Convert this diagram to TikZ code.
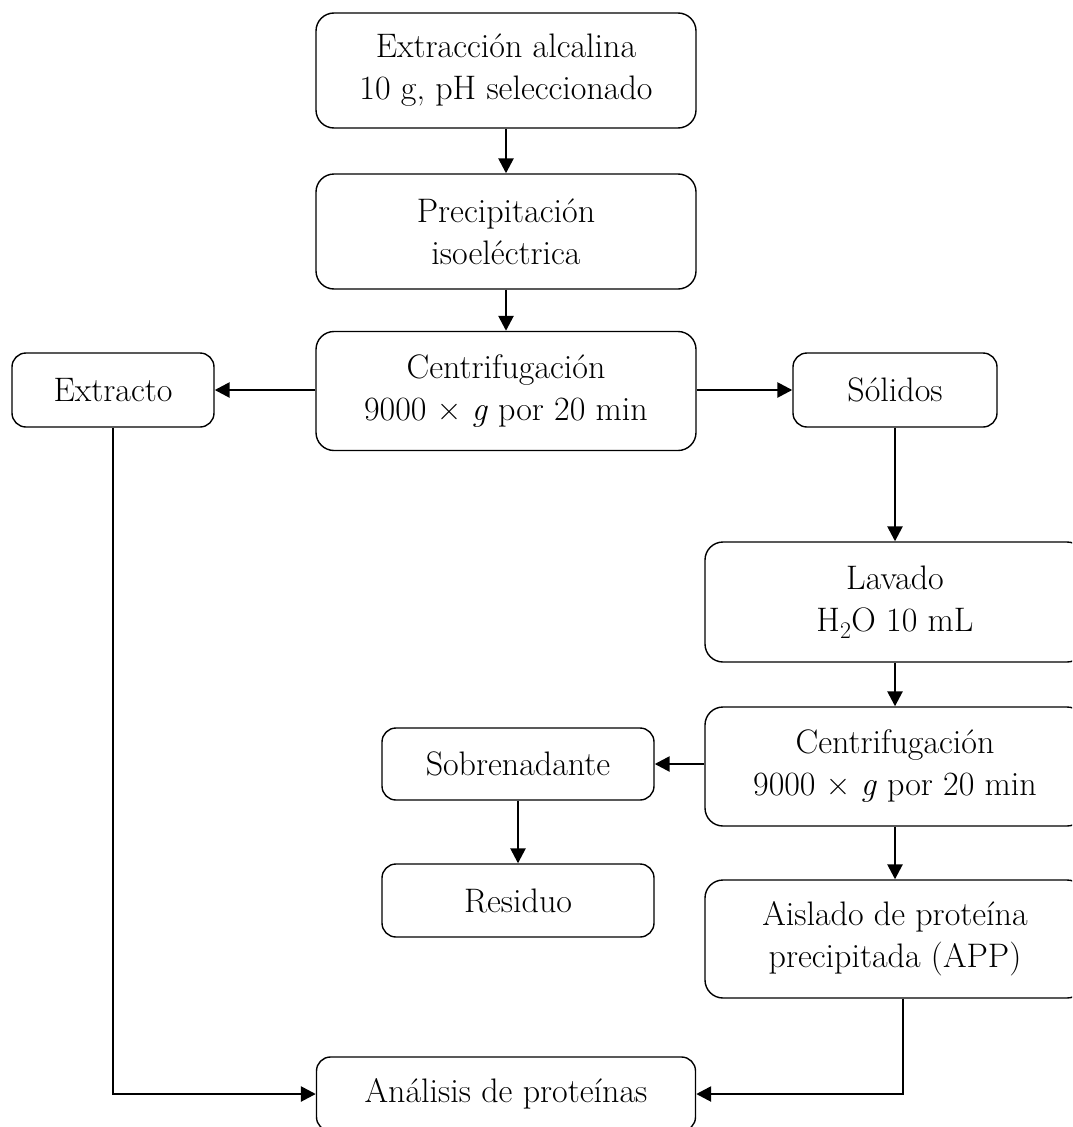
\documentclass[tikz,border=0pt]{standalone}
\usepackage{fontspec}
\usetikzlibrary{arrows.meta}
\begin{document}
\begin{tikzpicture}[x=1pt,y=-1pt,
  box/.style={draw=black, line width=1.4pt, rounded corners=18pt, align=center,
    inner sep=0pt, font=\fontsize{34}{42}\selectfont},
  bigbox/.style={box, minimum width=380pt, minimum height=117pt},
  smallbox/.style={box, rounded corners=14pt, minimum height=74pt},
  arr/.style={line width=2.6pt, -{Triangle[length=15pt,width=15pt]}}]
  \useasboundingbox (0,0) rectangle (1072,1127);
  \clip (0,0) rectangle (1072,1127);

  % main column
  \node[bigbox, minimum height=115pt] (ext)  at (506,70.5)  {Extracción alcalina\\10 g, pH seleccionado};
  \node[bigbox, minimum height=115pt] (prec) at (506,231.5) {Precipitación\\isoeléctrica};
  \node[bigbox, minimum height=119pt] (cen1) at (506,391)   {Centrifugación\\9000 × \textit{g} por 20 min};

  % side products of the first centrifugation
  \node[smallbox, minimum width=202pt] (xtr) at (113,390) {Extracto};
  \node[smallbox, minimum width=204pt] (sol) at (895,390) {Sólidos};

  % washing branch
  \node[bigbox, minimum height=120pt] (lav)  at (895,602)   {Lavado\\H\textsubscript{2}O 10 mL};
  \node[bigbox, minimum height=119pt] (cen2) at (895,766.5) {Centrifugación\\9000 × \textit{g} por 20 min};
  \node[smallbox, minimum width=272pt, minimum height=72pt] (sob) at (518,764) {Sobrenadante};
  \node[smallbox, minimum width=272pt, minimum height=73pt] (res) at (518,900.5) {Residuo};
  \node[bigbox, minimum height=118pt] (ais) at (895,939) {Aislado de proteína\\precipitada (APP)};

  % final analysis
  \node[smallbox, minimum width=379pt] (ana) at (506,1094) {Análisis de proteínas};

  % connectors
  \draw[arr] (ext) -- (prec);
  \draw[arr] (prec) -- (cen1);
  \draw[arr] (cen1.west |- xtr.east) -- (xtr.east);
  \draw[arr] (cen1.east |- sol.west) -- (sol.west);
  \draw[arr] (sol) -- (lav);
  \draw[arr] (lav) -- (cen2);
  \draw[arr] (cen2.west |- sob.east) -- (sob.east);
  \draw[arr] (sob) -- (res);
  \draw[arr] (cen2) -- (ais);
  \draw[arr] (xtr.south) |- (ana.west);
  \draw[arr] ([xshift=8pt]ais.south) |- (ana.east);
\end{tikzpicture}
\end{document}
